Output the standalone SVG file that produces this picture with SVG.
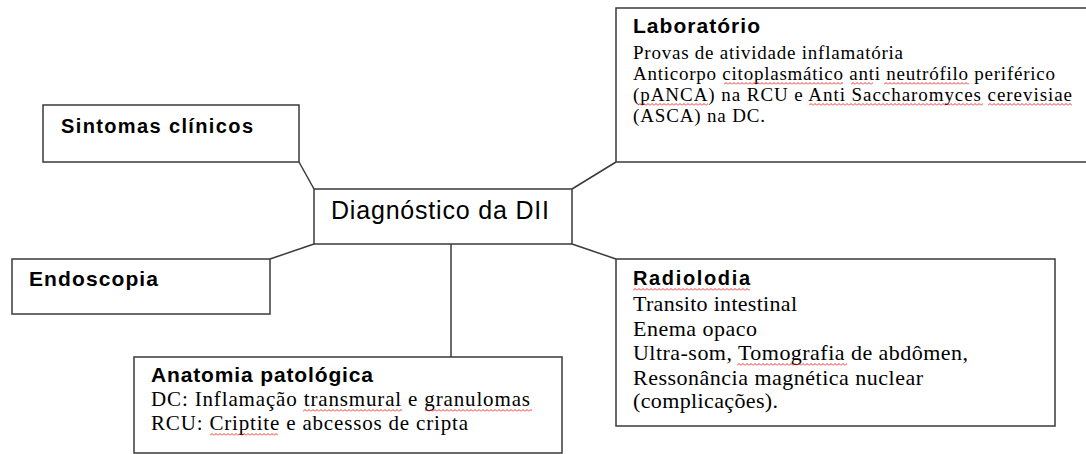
<svg xmlns="http://www.w3.org/2000/svg" width="1086" height="454" viewBox="0 0 1086 454">
<style>
.box{fill:#fff;stroke:#3a3a3a;stroke-width:1.5}
.conn line{stroke:#3a3a3a;stroke-width:1.5}
.h{font-family:"Liberation Sans",Arial,sans-serif;font-weight:bold;fill:#000}
.c{font-family:"Liberation Sans",Arial,sans-serif;fill:#000}
.b{font-family:"Liberation Serif","Times New Roman",serif;fill:#000}
.w{fill:url(#wave)}
</style>
<defs>
<pattern id="wave" width="4" height="3" patternUnits="userSpaceOnUse">
<path d="M0 2.5 L2 0.5 L4 2.5" fill="none" stroke="#e00" stroke-width="0.8"/>
</pattern>
</defs>
<rect width="1086" height="454" fill="#fff"/>
<g class="conn" id="connectors">
<line x1="299" y1="162" x2="314" y2="189"/>
<line x1="572" y1="189" x2="616" y2="162"/>
<line x1="270" y1="259" x2="314" y2="244"/>
<line x1="572" y1="244" x2="616" y2="259"/>
<line x1="451" y1="244" x2="451" y2="357"/>
</g>
<g id="laboratorio">
<rect class="box" x="616" y="8" width="474" height="154"/>
<text class="h" x="633" y="33" font-size="21" textLength="127" lengthAdjust="spacing">Laboratório</text>
<text class="b" font-size="19">
<tspan x="633" y="59" textLength="270" lengthAdjust="spacing">Provas de atividade inflamatória</tspan>
<tspan x="633" y="80" textLength="422" lengthAdjust="spacing">Anticorpo citoplasmático anti neutrófilo periférico</tspan>
<tspan x="633" y="101" textLength="439" lengthAdjust="spacing">(pANCA) na RCU e Anti Saccharomyces cerevisiae</tspan>
<tspan x="633" y="122" textLength="132" lengthAdjust="spacing">(ASCA) na DC.</tspan>
</text>
<g transform="translate(724,82)"><rect class="w" width="119" height="3"/></g>
<g transform="translate(851,82)"><rect class="w" width="22" height="3"/></g>
<g transform="translate(884,82)"><rect class="w" width="85" height="3"/></g>
<g transform="translate(638,103)"><rect class="w" width="70" height="3"/></g>
<g transform="translate(809,103)"><rect class="w" width="174" height="3"/></g>
<g transform="translate(988,103)"><rect class="w" width="84" height="3"/></g>
</g>
<g id="sintomas">
<rect class="box" x="43" y="105" width="256" height="57"/>
<text class="h" x="61" y="133" font-size="20" textLength="192" lengthAdjust="spacing">Sintomas clínicos</text>
</g>
<g id="diagnostico">
<rect class="box" x="314" y="189" width="258" height="55"/>
<text class="c" x="331" y="219" font-size="25" textLength="218" lengthAdjust="spacing">Diagnóstico da DII</text>
</g>
<g id="endoscopia">
<rect class="box" x="12" y="259" width="258" height="55"/>
<text class="h" x="29" y="286" font-size="21" textLength="129" lengthAdjust="spacing">Endoscopia</text>
</g>
<g id="anatomia">
<rect class="box" x="134" y="357" width="428" height="96"/>
<text class="h" x="151" y="382" font-size="21" textLength="222" lengthAdjust="spacing">Anatomia patológica</text>
<text class="b" font-size="21">
<tspan x="151" y="406" textLength="379" lengthAdjust="spacing">DC: Inflamação transmural e granulomas</tspan>
<tspan x="151" y="430" textLength="317" lengthAdjust="spacing">RCU: Criptite e abcessos de cripta</tspan>
</text>
<g transform="translate(303,409)"><rect class="w" width="99" height="3"/></g>
<g transform="translate(425,409)"><rect class="w" width="107" height="3"/></g>
<g transform="translate(210,433)"><rect class="w" width="68" height="3"/></g>
</g>
<g id="radiolodia">
<rect class="box" x="616" y="259" width="439" height="167"/>
<text class="h" x="633" y="285" font-size="20" textLength="117" lengthAdjust="spacing">Radiolodia</text>
<text class="b" font-size="22">
<tspan x="633" y="311" textLength="164" lengthAdjust="spacing">Transito intestinal</tspan>
<tspan x="633" y="336" textLength="124" lengthAdjust="spacing">Enema opaco</tspan>
<tspan x="633" y="360" textLength="335" lengthAdjust="spacing">Ultra-som, Tomografia de abdômen,</tspan>
<tspan x="633" y="385" textLength="290" lengthAdjust="spacing">Ressonância magnética nuclear</tspan>
<tspan x="633" y="408" textLength="145" lengthAdjust="spacing">(complicações).</tspan>
</text>
<g transform="translate(633,288)"><rect class="w" width="117" height="3"/></g>
<g transform="translate(737,363)"><rect class="w" width="110" height="3"/></g>
</g>
</svg>
